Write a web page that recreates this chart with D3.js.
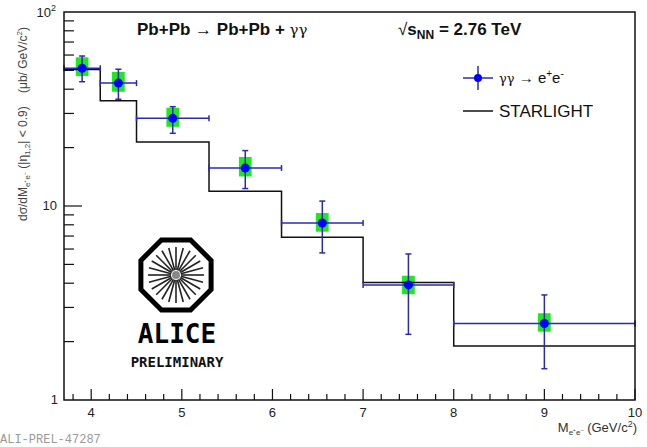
<!DOCTYPE html>
<html>
<head>
<meta charset="utf-8">
<script src="https://d3js.org/d3.v7.min.js"></script>
<style>
  body { margin: 0; background: #fff; }
  svg { font-family: "Liberation Sans", Arial, sans-serif; }
</style>
</head>
<body>
<svg id="chart" width="647" height="447"></svg>
<script>
// measured points (gamma gamma -> e+e-)
const xCenter = [3.9, 4.3, 4.9, 5.7, 6.55, 7.5, 9.0];
const binLo   = [3.7, 4.1, 4.5, 5.3, 6.1, 7.0, 8.0];
const binHi   = [4.1, 4.5, 5.3, 6.1, 7.0, 8.0, 10.0];
const yVal    = [51.3, 43.0, 28.3, 15.7, 8.17, 3.92, 2.48];
const statHi  = [59.3, 50.7, 32.5, 19.3, 10.6, 5.66, 3.48];
const statLo  = [43.7, 35.5, 23.7, 12.3, 5.73, 2.18, 1.45];
const sysHi   = [58.4, 49.1, 32.1, 17.9, 9.2, 4.37, 2.80];
const sysLo   = [46.8, 38.8, 25.6, 14.2, 7.37, 3.51, 2.25];
const sysHalfWidth = 0.07;

// STARLIGHT histogram
const starEdges = [3.7, 4.1, 4.5, 5.3, 6.1, 7.0, 8.0, 10.0];
const starVal   = [50.5, 34.9, 21.4, 11.9, 6.9, 4.03, 1.9];

const xTicks = [4, 5, 6, 7, 8, 9, 10];

const svg = d3.select("#chart");
const m = {left: 64, top: 12, right: 12, bottom: 47};
const W = 647 - m.left - m.right, H = 447 - m.top - m.bottom;

const x = d3.scaleLinear().domain([3.7, 10]).range([0, W]);
const y = d3.scaleLog().domain([1, 100]).range([H, 0]);

const g = svg.append("g").attr("transform", `translate(${m.left},${m.top})`);

const errColor = "#2a2ab0";

// systematic boxes
g.selectAll("rect.sys").data(xCenter).join("rect")
  .attr("class", "sys")
  .attr("x", d => x(d - sysHalfWidth))
  .attr("width", d => x(d + sysHalfWidth) - x(d - sysHalfWidth))
  .attr("y", (d, i) => y(sysHi[i]))
  .attr("height", (d, i) => y(sysLo[i]) - y(sysHi[i]))
  .attr("fill", "#1ee81e");

// STARLIGHT step line
const stepPts = starVal.map((v, i) => [starEdges[i], v]);
stepPts.push([starEdges[starEdges.length - 1], starVal[starVal.length - 1]]);
g.append("path")
  .datum(stepPts)
  .attr("fill", "none").attr("stroke", "#111").attr("stroke-width", 1.5)
  .attr("d", d3.line().x(d => x(d[0])).y(d => y(d[1])).curve(d3.curveStepAfter));

// error bars
const cap = 3;
const eb = g.append("g").attr("stroke", errColor).attr("stroke-width", 1.5).attr("fill", "none");
xCenter.forEach((cx, i) => {
  const px = x(cx), py = y(yVal[i]);
  const x0 = x(binLo[i]), x1 = x(binHi[i]);
  const yt = y(statHi[i]), yb = y(statLo[i]);
  eb.append("line").attr("x1", x0).attr("x2", x1).attr("y1", py).attr("y2", py);
  eb.append("line").attr("x1", x0).attr("x2", x0).attr("y1", py - cap).attr("y2", py + cap);
  eb.append("line").attr("x1", x1).attr("x2", x1).attr("y1", py - cap).attr("y2", py + cap);
  eb.append("line").attr("x1", px).attr("x2", px).attr("y1", yt).attr("y2", yb);
  eb.append("line").attr("x1", px - cap).attr("x2", px + cap).attr("y1", yt).attr("y2", yt);
  eb.append("line").attr("x1", px - cap).attr("x2", px + cap).attr("y1", yb).attr("y2", yb);
});

// markers
g.selectAll("circle.pt").data(xCenter).join("circle")
  .attr("class", "pt")
  .attr("cx", d => x(d)).attr("cy", (d, i) => y(yVal[i]))
  .attr("r", 4.5).attr("fill", "#0000ff");

// frame
g.append("rect").attr("width", W).attr("height", H)
  .attr("fill", "none").attr("stroke", "#111").attr("stroke-width", 1.5);

// x axis ticks
const xMinor = d3.range(3.8, 10.001, 0.2).map(v => +v.toFixed(1));
g.append("g").selectAll("line").data(xMinor).join("line")
  .attr("x1", d => x(d)).attr("x2", d => x(d))
  .attr("y1", H).attr("y2", d => H - (Math.abs(d - Math.round(d)) < 1e-6 ? 11 : 6))
  .attr("stroke", "#111").attr("stroke-width", 1.2);
g.append("g").selectAll("text").data(xTicks).join("text")
  .attr("x", d => x(d)).attr("y", H + 17)
  .attr("text-anchor", "middle").attr("font-size", 13).attr("fill", "#222")
  .text(d => d);

// y axis ticks
const yMinor = [2,3,4,5,6,7,8,9,20,30,40,50,60,70,80,90];
g.append("g").selectAll("line").data(yMinor).join("line")
  .attr("x1", 0).attr("x2", 10)
  .attr("y1", d => y(d)).attr("y2", d => y(d))
  .attr("stroke", "#111").attr("stroke-width", 1.2);
g.append("line").attr("x1", 0).attr("x2", 18).attr("y1", y(10)).attr("y2", y(10))
  .attr("stroke", "#111").attr("stroke-width", 1.2);

const yl = g.append("g").attr("font-size", 13).attr("fill", "#222");
yl.append("text").attr("x", -6).attr("y", y(1) + 4).attr("text-anchor", "end").text("1");
yl.append("text").attr("x", -7).attr("y", y(10) + 4).attr("text-anchor", "end").text("10");
const t100 = yl.append("text").attr("x", -8).attr("y", y(100) + 5).attr("text-anchor", "end");
t100.append("tspan").text("10");
t100.append("tspan").attr("font-size", 9).attr("dy", -6).text("2");

// y axis title
const ytitle = svg.append("text")
  .attr("transform", "translate(27,124) rotate(-90)")
  .attr("text-anchor", "middle").attr("font-size", 12).attr("fill", "#444");
ytitle.append("tspan").text("dσ/dM");
ytitle.append("tspan").attr("font-size", 8).attr("dy", 3).text("e⁺e⁻");
ytitle.append("tspan").attr("dy", -3).text(" (|η");
ytitle.append("tspan").attr("font-size", 8).attr("dy", 3).text("1,2");
ytitle.append("tspan").attr("dy", -3).text("| < 0.9)\u00a0\u00a0\u00a0\u00a0(μb/ GeV/c");
ytitle.append("tspan").attr("font-size", 8).attr("dy", -5).text("2");
ytitle.append("tspan").attr("dy", 5).text(")");

// x axis title
const xtitle = svg.append("text")
  .attr("x", m.left + W + 2).attr("y", 432)
  .attr("text-anchor", "end").attr("font-size", 13).attr("fill", "#333");
xtitle.append("tspan").text("M");
xtitle.append("tspan").attr("font-size", 8).attr("dy", 3).text("e⁺e⁻");
xtitle.append("tspan").attr("dy", -3).text(" (GeV/c");
xtitle.append("tspan").attr("font-size", 9).attr("dy", -5).text("2");
xtitle.append("tspan").attr("dy", 5).text(")");

// title
const title = svg.append("text").attr("x", 137).attr("y", 35)
  .attr("font-size", 17).attr("font-weight", "bold").attr("fill", "#111");
title.append("tspan").text("Pb+Pb ");
title.append("tspan").attr("font-weight", "normal").text("→");
title.append("tspan").text(" Pb+Pb + ");
title.append("tspan").attr("font-weight", "normal").style("font-family", "'DejaVu Serif', serif")
  .attr("font-size", 15).text("γγ");
const t2 = svg.append("text").attr("x", 398).attr("y", 35)
  .attr("font-size", 17).attr("font-weight", "bold").attr("fill", "#111");
t2.append("tspan").attr("font-weight", "normal").text("√");
t2.append("tspan").text("s");
t2.append("tspan").attr("font-size", 12).attr("dy", 4).text("NN");
t2.append("tspan").attr("dy", -4).text(" = 2.76 TeV");

// legend
const lg = svg.append("g");
lg.append("line").attr("x1", 463).attr("x2", 493).attr("y1", 78).attr("y2", 78)
  .attr("stroke", errColor).attr("stroke-width", 1.5);
lg.append("line").attr("x1", 478).attr("x2", 478).attr("y1", 66).attr("y2", 90)
  .attr("stroke", errColor).attr("stroke-width", 1.5);
lg.append("circle").attr("cx", 478).attr("cy", 78).attr("r", 4).attr("fill", "#0000ff");
const l1 = lg.append("text").attr("x", 499).attr("y", 83).attr("font-size", 15).attr("fill", "#111");
l1.append("tspan").style("font-family", "'DejaVu Serif', serif").attr("font-size", 13).text("γγ");
l1.append("tspan").text(" → e");
l1.append("tspan").attr("font-size", 10).attr("dy", -6).text("+");
l1.append("tspan").attr("font-size", 15).attr("dy", 6).text("e");
l1.append("tspan").attr("font-size", 10).attr("dy", -6).text("-");
lg.append("line").attr("x1", 463).attr("x2", 493).attr("y1", 111).attr("y2", 111)
  .attr("stroke", "#111").attr("stroke-width", 1.5);
lg.append("text").attr("x", 499).attr("y", 117).attr("font-size", 17).attr("fill", "#111").text("STARLIGHT");

// ALICE logo
const logo = svg.append("g").attr("transform", "translate(176,275)");
const R = 38;
const oct = d3.range(8).map(k => {
  const a = Math.PI / 8 + k * Math.PI / 4;
  return [R * Math.cos(a), R * Math.sin(a)];
});
logo.append("path").attr("d", d3.line()(oct) + "Z")
  .attr("fill", "none").attr("stroke", "#000").attr("stroke-width", 5);
d3.range(24).forEach(k => {
  const a = k * Math.PI / 12;
  logo.append("line")
    .attr("x1", 5 * Math.cos(a)).attr("y1", 5 * Math.sin(a))
    .attr("x2", 28 * Math.cos(a)).attr("y2", 28 * Math.sin(a))
    .attr("stroke", "#222").attr("stroke-width", 1.6);
});
logo.append("circle").attr("r", 4).attr("fill", "#888");
svg.append("text").attr("x", 177).attr("y", 343).attr("text-anchor", "middle")
  .style("font-family", "'DejaVu Sans Mono', monospace").attr("font-weight", "bold").attr("font-size", 26)
  .attr("fill", "#000").text("ALICE");
svg.append("text").attr("x", 177).attr("y", 367).attr("text-anchor", "middle")
  .style("font-family", "'DejaVu Sans Mono', monospace").attr("font-weight", "bold").attr("font-size", 14)
  .attr("fill", "#111").text("PRELIMINARY");

// figure id
svg.append("text").attr("x", 0).attr("y", 443)
  .style("font-family", "'Liberation Mono', monospace").attr("font-size", 12)
  .attr("fill", "#999").text("ALI-PREL-47287");
</script>
</body>
</html>
